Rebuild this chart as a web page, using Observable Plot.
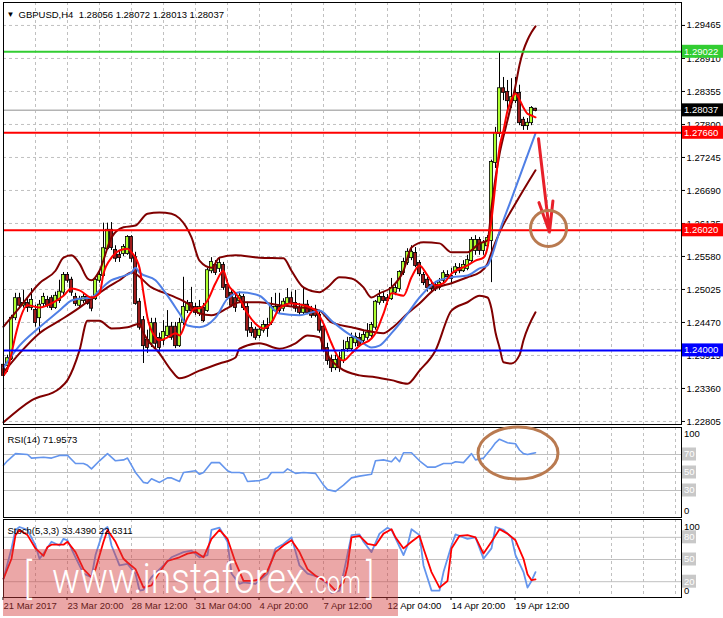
<!DOCTYPE html>
<html><head><meta charset="utf-8">
<script src="https://cdn.jsdelivr.net/npm/d3@7"></script>
<script src="https://cdn.jsdelivr.net/npm/@observablehq/plot@0.6"></script>
<style>
body{margin:0;background:#fff;}
#wrap{position:relative;width:723px;height:618px;overflow:hidden;background:#fff;font-family:"Liberation Sans",Arial,sans-serif;}
#wrap > div{position:absolute;left:0;}
</style></head><body>
<div id="wrap"><div id="main" style="top:0"></div><div id="rsi" style="top:425px"></div><div id="sto" style="top:517px"></div></div>
<script>
// ---------- DATA ----------
const symbol = "GBPUSD,H4";
const lastOHLC = [1.28056, 1.28072, 1.28013, 1.28037];
const barOpen = [1.2375,1.2375,1.2386,1.2455,1.2487,1.2476,1.2479,1.2472,1.2467,1.2455,
1.2479,1.2484,1.2487,1.2472,1.2484,1.2498,1.2526,1.2518,1.2489,1.2476,
1.2484,1.2489,1.2487,1.2487,1.2518,1.2526,1.2571,1.2602,1.2568,1.2560,
1.2563,1.2563,1.2590,1.2556,1.2481,1.2450,1.2417,1.2412,1.2445,1.2420,
1.2417,1.2425,1.2439,1.2439,1.2408,1.2447,1.2467,1.2479,1.2472,1.2462,
1.2471,1.2467,1.2534,1.2543,1.2538,1.2543,1.2509,1.2496,1.2487,1.2484,
1.2489,1.2472,1.2437,1.2434,1.2425,1.2434,1.2442,1.2447,1.2467,1.2472,
1.2471,1.2479,1.2487,1.2479,1.2471,1.2464,1.2476,1.2467,1.2467,1.2459,
1.2439,1.2403,1.2383,1.2371,1.2386,1.2383,1.2403,1.2403,1.2413,1.2420,
1.2417,1.2422,1.2425,1.2439,1.2481,1.2489,1.2487,1.2487,1.2498,1.2504,
1.2531,1.2548,1.2556,1.2563,1.2546,1.2526,1.2518,1.2509,1.2509,1.2506,
1.2518,1.2526,1.2524,1.2531,1.2538,1.2534,1.2538,1.2551,1.2568,1.2585,
1.2568,1.2576,1.2585,1.2716,1.2765,1.2840,1.2834,1.2817,1.2820,1.2832,
1.2787,1.2778,1.2783,1.28056];
const barHigh = [1.2383,1.2392,1.2459,1.2496,1.2496,1.2501,1.2487,1.2504,1.2476,1.2484,
1.2496,1.2491,1.2492,1.2498,1.2518,1.2531,1.2531,1.2523,1.2496,1.2491,
1.2494,1.2492,1.2491,1.2524,1.2531,1.2614,1.2614,1.2615,1.2576,1.2568,
1.2578,1.2593,1.2593,1.2565,1.2487,1.2457,1.2434,1.2454,1.2454,1.2429,
1.2450,1.2467,1.2447,1.2447,1.2454,1.2523,1.2484,1.2506,1.2479,1.2484,
1.2479,1.2538,1.2556,1.2551,1.2556,1.2548,1.2518,1.2501,1.2494,1.2498,
1.2494,1.2481,1.2447,1.2439,1.2439,1.2450,1.2454,1.2489,1.2496,1.2496,
1.2487,1.2504,1.2498,1.2501,1.2479,1.2504,1.2484,1.2474,1.2476,1.2464,
1.2445,1.2412,1.2392,1.2392,1.2397,1.2417,1.2422,1.2429,1.2429,1.2429,
1.2434,1.2445,1.2447,1.2484,1.2501,1.2498,1.2494,1.2521,1.2513,1.2534,
1.2555,1.2571,1.2576,1.2573,1.2551,1.2531,1.2523,1.2518,1.2516,1.2521,
1.2534,1.2534,1.2538,1.2546,1.2546,1.2551,1.2560,1.2590,1.2593,1.2590,
1.2585,1.2593,1.2720,1.2775,1.2901,1.2859,1.2854,1.2857,1.2859,1.2846,
1.2792,1.2790,1.2810,1.28072];
const barLow = [1.2338,1.2363,1.2383,1.2450,1.2471,1.2471,1.2464,1.2467,1.2439,1.2429,
1.2472,1.2471,1.2467,1.2469,1.2479,1.2492,1.2513,1.2491,1.2474,1.2472,
1.2479,1.2476,1.2465,1.2484,1.2513,1.2523,1.2568,1.2568,1.2548,1.2548,
1.2558,1.2560,1.2548,1.2476,1.2434,1.2378,1.2395,1.2405,1.2403,1.2397,
1.2408,1.2420,1.2417,1.2403,1.2405,1.2442,1.2462,1.2462,1.2459,1.2457,
1.2447,1.2464,1.2529,1.2526,1.2531,1.2501,1.2484,1.2472,1.2464,1.2479,
1.2467,1.2422,1.2423,1.2417,1.2420,1.2429,1.2422,1.2442,1.2464,1.2462,
1.2465,1.2476,1.2474,1.2464,1.2459,1.2460,1.2460,1.2454,1.2455,1.2429,
1.2397,1.2375,1.2363,1.2366,1.2363,1.2378,1.2397,1.2400,1.2406,1.2405,
1.2412,1.2417,1.2420,1.2434,1.2476,1.2479,1.2476,1.2484,1.2492,1.2498,
1.2526,1.2543,1.2551,1.2539,1.2524,1.2509,1.2498,1.2498,1.2499,1.2501,
1.2513,1.2518,1.2513,1.2526,1.2529,1.2531,1.2534,1.2548,1.2560,1.2560,
1.2560,1.2568,1.2514,1.2706,1.2758,1.2820,1.2800,1.2807,1.2815,1.2778,
1.2770,1.2770,1.2778,1.28013];
const barClose = [1.2358,1.2386,1.2454,1.2487,1.2476,1.2479,1.2472,1.2484,1.2447,1.2476,
1.2489,1.2476,1.2472,1.2491,1.2498,1.2526,1.2518,1.2498,1.2479,1.2486,
1.2489,1.2479,1.2471,1.2518,1.2526,1.2571,1.2602,1.2573,1.2555,1.2556,
1.2573,1.2590,1.2555,1.2479,1.2439,1.2408,1.2405,1.2445,1.2412,1.2405,
1.2430,1.2439,1.2422,1.2408,1.2445,1.2472,1.2479,1.2467,1.2464,1.2472,
1.2450,1.2534,1.2548,1.2531,1.2546,1.2506,1.2489,1.2476,1.2472,1.2491,
1.2472,1.2434,1.2430,1.2422,1.2434,1.2442,1.2437,1.2472,1.2472,1.2467,
1.2481,1.2487,1.2479,1.2471,1.2464,1.2476,1.2464,1.2459,1.2459,1.2434,
1.2400,1.2383,1.2371,1.2383,1.2371,1.2400,1.2413,1.2420,1.2422,1.2408,
1.2425,1.2429,1.2442,1.2481,1.2489,1.2484,1.2484,1.2504,1.2504,1.2531,
1.2548,1.2565,1.2565,1.2543,1.2529,1.2514,1.2506,1.2504,1.2504,1.2513,
1.2529,1.2524,1.2521,1.2539,1.2534,1.2543,1.2551,1.2585,1.2585,1.2568,
1.2580,1.2588,1.2716,1.2765,1.2840,1.2834,1.2820,1.2825,1.2832,1.2783,
1.2778,1.2782,1.2807,1.28037];

// indicator readings: [bar index, value]
const bbUpper = [[0,1.2440],[4,1.2472],[9,1.2513],[13,1.2534],[15,1.2556],[17,1.2560],[19,1.2546],[21,1.2521],[22,1.2518],[24,1.2534],[27,1.2590],[30,1.2607],[33,1.2610],[36,1.2630],[39,1.2632],[42,1.2630],[44,1.2622],[47,1.2590],[49,1.2551],[52,1.2539],[54,1.2556],[58,1.2560],[64,1.2556],[70,1.2555],[72,1.2534],[75,1.2506],[79,1.2498],[81,1.2506],[84,1.2523],[87,1.2521],[90,1.2506],[92,1.2489],[94,1.2496],[97,1.2506],[100,1.2534],[102,1.2573],[105,1.2582],[109,1.2580],[112,1.2565],[116,1.2565],[119,1.2580],[121,1.2585],[122,1.2640],[123,1.2690],[124,1.2730],[125,1.2760],[126,1.2787],[127,1.2815],[128,1.2845],[129,1.2880],[130,1.2905],[131,1.2922],[132,1.2935],[133,1.2945]];
const bbMiddle = [[0,1.2363],[4,1.2395],[9,1.2429],[14,1.2450],[19,1.2472],[22,1.2487],[26,1.2506],[29,1.2518],[32,1.2531],[37,1.2506],[42,1.2492],[46,1.2479],[49,1.2462],[52,1.2459],[56,1.2471],[59,1.2481],[64,1.2481],[69,1.2476],[76,1.2471],[79,1.2467],[82,1.2447],[87,1.2439],[90,1.2434],[95,1.2429],[97,1.2437],[101,1.2462],[104,1.2479],[108,1.2504],[112,1.2513],[116,1.2523],[119,1.2531],[121,1.2546],[122,1.2565],[124,1.2598],[128,1.2647],[133,1.2703]];
const bbLower = [[0,1.2279],[7,1.2316],[14,1.2336],[16,1.2350],[19,1.2400],[21,1.2450],[24,1.2450],[27,1.2437],[31,1.2439],[34,1.2445],[35,1.2429],[39,1.2395],[42,1.2366],[44,1.2353],[49,1.2366],[54,1.2378],[58,1.2388],[59,1.2403],[64,1.2412],[69,1.2403],[73,1.2412],[76,1.2425],[79,1.2422],[80,1.2405],[84,1.2371],[89,1.2358],[93,1.2355],[97,1.2350],[101,1.2344],[104,1.2366],[108,1.2400],[112,1.2467],[116,1.2481],[119,1.2492],[121,1.2489],[122,1.2470],[123,1.2430],[124,1.2405],[125,1.2380],[127,1.2378],[129,1.2392],[130,1.2417],[133,1.2464]];
const fastMA = [[0,1.2358],[1,1.2368],[2,1.2395],[3,1.2425],[4,1.2450],[6,1.2476],[9,1.2472],[12,1.2479],[15,1.2492],[17,1.2504],[19,1.2501],[22,1.2489],[24,1.2496],[25,1.2529],[27,1.2556],[29,1.2568],[31,1.2571],[32,1.2565],[34,1.2539],[35,1.2496],[36,1.2455],[38,1.2422],[39,1.2417],[41,1.2422],[43,1.2429],[44,1.2425],[46,1.2455],[48,1.2471],[49,1.2471],[51,1.2484],[53,1.2513],[55,1.2534],[56,1.2513],[58,1.2496],[59,1.2487],[61,1.2462],[63,1.2445],[65,1.2437],[67,1.2447],[69,1.2471],[72,1.2479],[75,1.2476],[78,1.2467],[80,1.2445],[82,1.2412],[84,1.2386],[85,1.2383],[87,1.2395],[89,1.2408],[92,1.2420],[93,1.2429],[95,1.2462],[97,1.2496],[100,1.2492],[102,1.2523],[104,1.2543],[106,1.2526],[108,1.2509],[110,1.2513],[112,1.2529],[116,1.2543],[118,1.2551],[120,1.2556],[121,1.2573],[122,1.2620],[123,1.2680],[124,1.2741],[125,1.2770],[126,1.2803],[127,1.2822],[128,1.2832],[129,1.2822],[130,1.2808],[131,1.2798],[132,1.2795],[133,1.2792]];
const slowMA = [[0,1.2371],[4,1.2408],[9,1.2439],[14,1.2467],[17,1.2484],[19,1.2487],[22,1.2489],[24,1.2501],[27,1.2518],[29,1.2523],[32,1.2531],[33,1.2539],[34,1.2531],[38,1.2518],[41,1.2492],[44,1.2462],[46,1.2442],[49,1.2439],[53,1.2455],[56,1.2487],[58,1.2496],[59,1.2498],[64,1.2492],[69,1.2462],[74,1.2459],[77,1.2464],[79,1.2467],[82,1.2450],[86,1.2429],[89,1.2417],[92,1.2405],[94,1.2408],[97,1.2429],[101,1.2462],[104,1.2489],[108,1.2515],[112,1.2523],[116,1.2526],[119,1.2538],[121,1.2543],[122,1.2557],[124,1.2600],[127,1.2655],[130,1.2710],[133,1.2765]];
const rsi14 = [[0,58],[1,63],[3,71],[6,70],[7,66],[10,67],[12,66],[14,69],[16,69],[18,60],[20,60],[21,58],[22,54],[24,63],[26,71],[28,63],[30,64],[31,66],[33,50],[35,39],[36,38],[37,43],[39,39],[41,44],[42,44],[44,40],[45,50],[48,52],[49,48],[50,50],[52,61],[54,61],[56,52],[57,50],[59,50],[60,49],[61,40],[64,41],[66,44],[67,50],[70,50],[71,54],[73,49],[75,50],[78,49],[80,36],[81,31],[83,29],[85,36],[87,44],[89,46],[92,48],[93,63],[95,64],[97,62],[98,67],[99,62],[100,72],[102,72],[104,63],[106,56],[108,56],[110,60],[112,60],[113,62],[115,61],[117,71],[118,64],[120,66],[122,77],[123,83],[124,87],[126,83],[128,82],[129,75],[130,71],[131,70],[132,71],[133,72]];
const stochMain = [[0,24],[2,65],[3,90],[4,94],[6,90],[8,69],[9,51],[10,58],[12,74],[14,69],[15,78],[16,76],[18,53],[20,31],[22,26],[23,56],[25,90],[26,94],[27,69],[29,42],[31,44],[33,31],[34,8],[35,9],[37,26],[40,42],[42,53],[45,60],[47,62],[49,53],[51,56],[52,90],[54,93],[56,74],[57,31],[59,17],[60,19],[63,17],[66,31],[68,65],[70,71],[72,80],[74,42],[76,31],[79,26],[81,17],[82,5],[84,8],[85,31],[87,83],[89,84],[90,74],[92,60],[94,85],[96,93],[97,90],[100,56],[101,69],[102,91],[104,83],[105,42],[107,8],[109,8],[110,33],[112,69],[113,84],[116,78],[118,80],[120,51],[122,65],[123,94],[125,90],[127,80],[128,56],[130,33],[131,12],[132,21],[133,33]];
const stochSignal = [[0,24],[2,51],[3,83],[4,90],[6,83],[8,65],[10,55],[11,67],[12,70],[15,70],[16,74],[18,60],[20,37],[22,26],[23,37],[25,74],[26,90],[28,74],[30,51],[31,46],[33,37],[35,12],[37,15],[39,33],[41,48],[44,53],[46,58],[48,60],[50,53],[52,78],[54,90],[56,78],[58,46],[60,21],[62,21],[64,23],[66,35],[68,60],[70,69],[72,76],[74,60],[76,37],[78,28],[81,19],[83,8],[85,19],[86,41],[87,80],[89,82],[91,71],[93,69],[95,85],[97,91],[98,80],[100,65],[102,74],[104,82],[105,65],[107,33],[109,12],[111,21],[112,65],[114,82],[116,83],[118,80],[120,58],[122,74],[124,91],[126,85],[128,76],[130,51],[131,30],[132,22],[133,23]];

const priceTicks = [1.22805,1.23360,1.23915,1.24470,1.25025,1.25580,1.26135,1.26690,1.27245,1.27800,1.28355,1.28910,1.29465];
const levelPrices = [1.29022, 1.27660, 1.26020, 1.24000];
const levelColors = ["#32cd32", "#ff0000", "#ff0000", "#0000ff"];
const rsiLevels = [70, 50, 30];
const stochLevels = [80, 50, 20];
const timeBars = [0,16,32,48,64,80,96,112,128];
const timeLabels = ["21 Mar 2017","23 Mar 20:00","28 Mar 12:00","31 Mar 04:00","4 Apr 20:00","7 Apr 12:00","12 Apr 04:00","14 Apr 20:00","19 Apr 12:00"];
const arrowFrom = [133.75, 1.2756];
const arrowTo = [136.5, 1.2599];
const targetMark = [136.25, 1.2605];
const rsiMark = [128.75, 71];
const rsiTitle = "RSI(14) 71.9573";
const stochTitle = "Stoch(5,3,3) 33.4390 22.6311";

// ---------- CHART ----------
const FONT = "'Liberation Sans', Arial, sans-serif";
const FS = "9.5px";
const xDomain = [0, 169.5];
const gridBars = d3.range(8, 170, 8);
const bars = barOpen.map((o, i) => ({i, o, h: barHigh[i], l: barLow[i], c: barClose[i]}));
const fmt5 = d3.format(".5f");
const baseStyle = {fontFamily: FONT, fontSize: FS, background: "transparent", overflow: "visible", color: "black"};
const dash = {stroke: "#c0c0c0", strokeDasharray: "3,3", strokeWidth: 1};
const brown = "#b97a50";

const main = Plot.plot({
  width: 723, height: 426,
  marginTop: 2, marginBottom: 2, marginLeft: 3, marginRight: 42,
  style: baseStyle,
  x: {domain: xDomain, axis: null, label: null},
  y: {domain: [1.22754, 1.29851], axis: "right", ticks: priceTicks, tickFormat: fmt5, tickSize: 3, tickPadding: 2, label: null},
  color: {type: "identity"},
  marks: [
    Plot.ruleY(priceTicks, dash),
    Plot.ruleX(gridBars, dash),
    Plot.ruleY([lastOHLC[3]], {stroke: "#b4b4b4", strokeWidth: 1.5}),
    Plot.ruleX(bars, {x: "i", y1: "l", y2: "h", stroke: "black", strokeWidth: 1}),
    Plot.rect(bars, {x1: d => d.i - 0.4, x2: d => d.i + 0.4, y1: "o", y2: "c",
      fill: d => d.c >= d.o ? "#adff2f" : "#9e1a1a", stroke: "black", strokeWidth: 0.8, insetTop: -0.5, insetBottom: -0.5}),
    Plot.line(bbUpper, {stroke: "#800000", strokeWidth: 2, curve: "monotone-x"}),
    Plot.line(bbLower, {stroke: "#800000", strokeWidth: 2, curve: "monotone-x"}),
    Plot.line(bbMiddle, {stroke: "#800000", strokeWidth: 2, curve: "monotone-x"}),
    Plot.line(slowMA, {stroke: "#4f7fe6", strokeWidth: 2, curve: "monotone-x"}),
    Plot.line(fastMA, {stroke: "#ff0000", strokeWidth: 2, curve: "monotone-x"}),
    Plot.ruleY(levelPrices, {y: d => d, stroke: (d, k) => levelColors[k], strokeWidth: 2}),
    Plot.arrow([{a: arrowFrom, b: arrowTo}], {x1: d => d.a[0], y1: d => d.a[1], x2: d => d.b[0], y2: d => d.b[1],
      stroke: "#e8202a", strokeWidth: 3, headLength: 30, headAngle: 26}),
    Plot.dot([targetMark], {x: d => d[0], y: d => d[1], r: 18, stroke: brown, strokeWidth: 3, fill: "none"}),
    Plot.frame({stroke: "black"}),
    Plot.text(["\u25BC"], {frameAnchor: "top-left", dx: 3, dy: 9, textAnchor: "start", fontSize: 8}),
    Plot.text([symbol + "\u00a0\u00a0" + lastOHLC.map(fmt5).join(" ")], {frameAnchor: "top-left", dx: 15, dy: 9, textAnchor: "start"})
  ]
});
document.getElementById("main").appendChild(main);

function tag(chart, value, text, bg, fg, w) {
  const y = chart.scale("y").apply(value);
  const g = d3.select(chart).append("g").attr("text-anchor", "start");
  g.append("rect").attr("x", 682).attr("y", y - 6.5).attr("width", w).attr("height", 13).attr("fill", bg);
  g.append("text").attr("x", 684).attr("y", y).attr("dy", "0.35em").attr("fill", fg).attr("text-anchor", "start")
    .style("font-family", FONT).style("font-size", FS).text(text);
}
function plainLabel(chart, value, text, dy) {
  const y = chart.scale("y").apply(value);
  d3.select(chart).append("text").attr("x", 684).attr("y", y + dy).attr("dy", "0.35em").attr("fill", "black")
    .attr("text-anchor", "start").style("font-family", FONT).style("font-size", FS).text(text);
}
tag(main, lastOHLC[3], fmt5(lastOHLC[3]), "#000000", "#ffffff", 41);
levelPrices.forEach((p, k) => tag(main, p, fmt5(p), levelColors[k], "#ffffff", 41));

// RSI panel
const rsiChart = Plot.plot({
  width: 723, height: 94,
  marginTop: 2, marginBottom: 2, marginLeft: 3, marginRight: 42,
  style: baseStyle,
  x: {domain: xDomain, axis: null, label: null},
  y: {domain: [0, 100], axis: null, label: null},
  marks: [
    Plot.ruleX(gridBars, dash),
    Plot.ruleY(rsiLevels, {stroke: "#c0c0c0", strokeWidth: 1}),
    Plot.line(rsi14, {stroke: "#6495ed", strokeWidth: 1.6}),
    Plot.frame({stroke: "black"}),
    Plot.text([rsiTitle], {frameAnchor: "top-left", dx: 4, dy: 9, textAnchor: "start"})
  ]
});
document.getElementById("rsi").appendChild(rsiChart);
plainLabel(rsiChart, 100, "100", 7);
plainLabel(rsiChart, 0, "0", -6);
rsiLevels.forEach(v => tag(rsiChart, v, String(v), "#c8c8c8", "#ffffff", 14));
{
  const sx = rsiChart.scale("x").apply(rsiMark[0]), sy = rsiChart.scale("y").apply(rsiMark[1]);
  d3.select(rsiChart).append("ellipse").attr("cx", sx).attr("cy", sy).attr("rx", 40).attr("ry", 26)
    .attr("fill", "none").attr("stroke", brown).attr("stroke-width", 3);
}

// Stochastic panel
const stoChart = Plot.plot({
  width: 723, height: 101,
  marginTop: 2, marginBottom: 21, marginLeft: 3, marginRight: 42,
  style: baseStyle,
  x: {domain: xDomain, axis: null, label: null},
  y: {domain: [-1.36, 104.1], axis: null, label: null},
  marks: [
    Plot.ruleX(gridBars, dash),
    Plot.ruleY(stochLevels, {stroke: "#c0c0c0", strokeWidth: 1}),
    Plot.line(stochMain, {stroke: "#6495ed", strokeWidth: 1.8}),
    Plot.line(stochSignal, {stroke: "#ff0000", strokeWidth: 1.8}),
    Plot.frame({stroke: "black"}),
    Plot.text([stochTitle], {frameAnchor: "top-left", dx: 4, dy: 8, textAnchor: "start"}),
    Plot.text(timeBars, {x: d => d, text: (d, k) => timeLabels[k], frameAnchor: "bottom", dy: 11, textAnchor: "start"})
  ]
});
document.getElementById("sto").appendChild(stoChart);
plainLabel(stoChart, 100, "100", 5);
plainLabel(stoChart, 0, "0", -5);
stochLevels.forEach(v => tag(stoChart, v, String(v), "#c8c8c8", "#ffffff", 14));
{
  // small ticks under the time axis
  const sx = stoChart.scale("x");
  const g = d3.select(stoChart).append("g").attr("stroke", "black");
  timeBars.forEach(b => g.append("line").attr("x1", sx.apply(b)).attr("x2", sx.apply(b)).attr("y1", 80).attr("y2", 83));
}

// watermark (covers the lower stochastic area and the time labels beneath it)
{
  const s = d3.select(stoChart);
  const g = s.append("g").attr("text-anchor", "start");
  g.append("rect").attr("x", 3).attr("y", 32).attr("width", 395).attr("height", 67).attr("fill", "rgba(210,60,60,0.45)");
  const t = (x, txt, size, len) => g.append("text").attr("x", x).attr("y", 76).attr("fill", "#ffffff").attr("text-anchor", "start")
    .style("font-family", "Roboto, 'Open Sans', 'Liberation Sans', sans-serif").style("font-weight", 300)
    .style("font-size", size + "px").attr("textLength", len).attr("lengthAdjust", "spacingAndGlyphs").text(txt);
  t(24, "[", 42, 8);
  t(52, "www.instaforex", 42, 252);
  t(309, ".com", 31, 52);
  t(366, "]", 42, 8);
}
</script>
</body></html>
